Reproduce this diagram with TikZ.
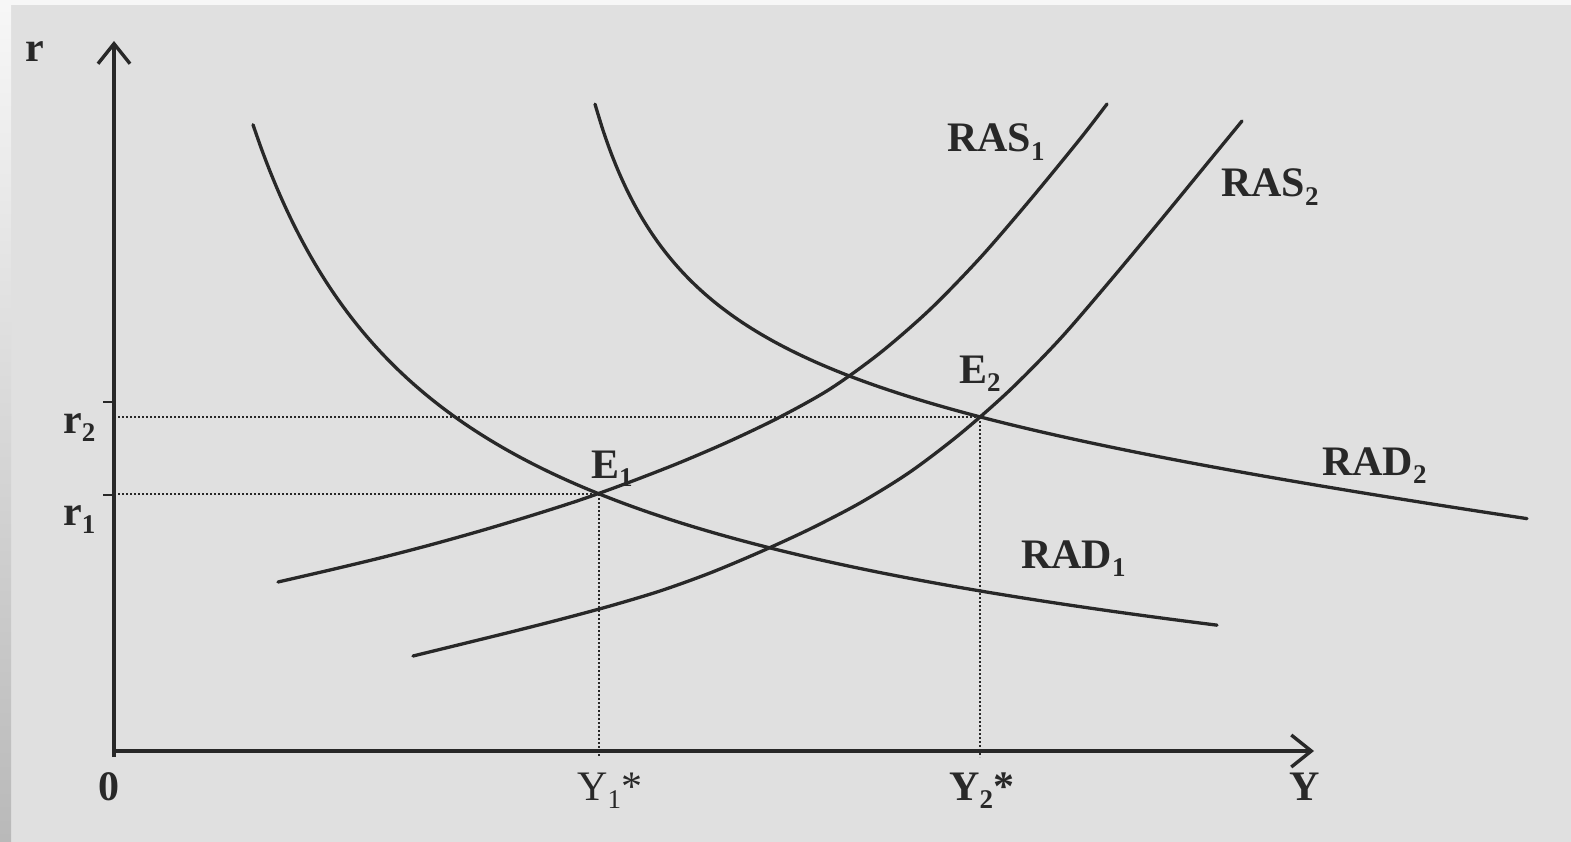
\documentclass[tikz,border=0pt]{standalone}
\usepackage{fontspec}
\setmainfont{Liberation Serif}
\usetikzlibrary{arrows.meta}
\definecolor{paper}{RGB}{224,224,224}
\definecolor{ink}{RGB}{40,40,40}
\newcommand\lowsub[1]{\raisebox{-0.2em}{\fontsize{27}{27}\selectfont #1}}
\begin{document}
\begin{tikzpicture}[x=1pt,y=-1pt,
 curve/.style={draw=ink,line width=3.3pt,line cap=round},
 axis/.style={draw=ink,line width=3.4pt,-{Straight Barb[length=20pt,width=32pt]}},
 guide/.style={draw=ink,line width=2pt,dash pattern=on 2.4pt off 1.6pt},
 lbl/.style={text=ink,font=\fontsize{42}{46}\selectfont\bfseries,inner sep=0pt,anchor=base west},
 lblr/.style={text=ink,font=\fontsize{42}{46}\selectfont,inner sep=0pt,anchor=base west},
 tick/.style={draw=ink,line width=2.8pt}
]
\useasboundingbox (0,0) rectangle (1571,842);
\fill[paper] (0,0) rectangle (1571,842);
\shade[top color=white!94!gray,bottom color=gray!55] (0,0) rectangle (11,842);
\fill[white!94!gray] (11,0) rectangle (1571,5);

\coordinate (O) at (114,751);
\coordinate (ybot) at (114,757);
\coordinate (ytop) at (114,41);
\coordinate (xbeg) at (112,751);
\coordinate (xend) at (1314,751);
\coordinate (E1) at (599,494);
\coordinate (E2) at (980,417);
\coordinate (Y1b) at (599,757);
\coordinate (Y2b) at (980,757);
\coordinate (t2a) at (103,402);
\coordinate (t2b) at (114,402);
\coordinate (t1a) at (103,495);
\coordinate (t1b) at (114,495);

% axes
\draw[axis] (ybot) -- (ytop);
\draw[axis] (xbeg) -- (xend);
\draw[tick] (t2a) -- (t2b);
\draw[tick] (t1a) -- (t1b);

% guide lines
\draw[guide] (O |- E2) -- (E2);
\draw[guide] (O |- E1) -- (E1);
\draw[guide] (E1) -- (Y1b);
\draw[guide] (E2) -- (Y2b);

% RAD1
\draw[curve] plot[domain=139:1103,samples=120,smooth] ({114+\x},{751-(95-0.05*\x+986.15/(0.01*\x+0.443))});
% RAD2
\draw[curve] plot[domain=481:1413,samples=120,smooth] ({114+\x},{751-(370-0.12*\x+328.69/(0.01*\x-3.825))});
% RAS1
\draw[curve] plot[smooth,tension=0.5] coordinates {(278,582) (330,570) (380,558) (430,545) (480,531) (530,516) (580,500) (630,482) (680,462.5) (730,441) (780,417) (830,389) (880,353) (930,309.5) (980,258) (1030,200) (1080,139) (1107,104)};
% RAS2
\draw[curve] plot[smooth,tension=0.5] coordinates {(413,656) (460,644.5) (510,632.2) (560,619.5) (610,606) (660,591) (710,573) (760,552) (810,529) (860,503) (910,472) (960,434) (1010,390) (1060,339) (1110,281) (1160,221) (1210,160) (1242,121)};

% labels
\node[lbl] (lr) at (25,62) {r};
\node[lbl] (lr2) at (63,433) {r\lowsub{2}};
\node[lbl] (lr1) at (63,525) {r\lowsub{1}};
\node[lbl] (l0) at (98,800) {0};
\node[lblr] (lY1) at (577,800) {Y\lowsub{1}*};
\node[lbl] (lY2) at (949,800) {Y\lowsub{2}*};
\node[lbl] (lY) at (1289,800) {Y};
\node[lbl] (lE1) at (591,478) {E\lowsub{1}};
\node[lbl] (lE2) at (959,383) {E\lowsub{2}};
\node[lbl] (lRAS1) at (947,152) {RAS\lowsub{1}};
\node[lbl] (lRAS2) at (1221,197) {RAS\lowsub{2}};
\node[lbl] (lRAD2) at (1322,475) {RAD\lowsub{2}};
\node[lbl] (lRAD1) at (1021,568) {RAD\lowsub{1}};
\end{tikzpicture}
\end{document}
